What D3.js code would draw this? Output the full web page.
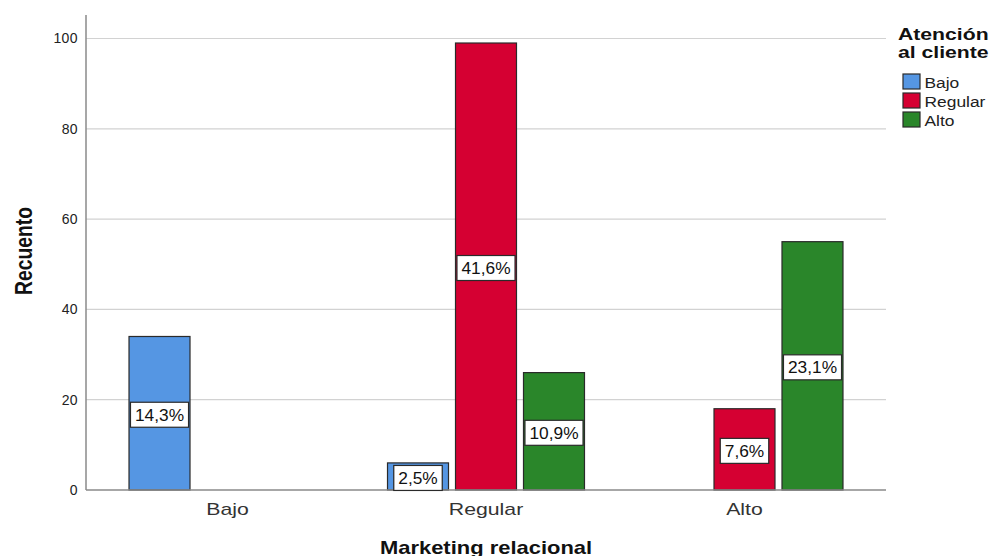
<!DOCTYPE html>
<html>
<head>
<meta charset="utf-8">
<script src="https://cdn.jsdelivr.net/npm/d3@7"></script>
<style>
  html, body { margin: 0; padding: 0; background: #fff; }
  svg { display: block; font-family: "Liberation Sans", Arial, sans-serif; }
</style>
</head>
<body>
<svg id="chart" width="994" height="556"></svg>
<script>
// Marketing relacional (x categories) by Atención al cliente (series)
const categories = ["Bajo", "Regular", "Alto"];
const seriesNames = ["Bajo", "Regular", "Alto"];
const seriesColors = ["#5596e3", "#d50032", "#2a862a"];
// counts per category, one array per series (null = no bar)
const bajoCounts = [34, 6, null];
const regularCounts = [null, 99, 18];
const altoCounts = [null, 26, 55];
// percentage labels (of total n = 238)
const bajoPct = ["14,3%", "2,5%", null];
const regularPct = [null, "41,6%", "7,6%"];
const altoPct = [null, "10,9%", "23,1%"];
const yTicks = [0, 20, 40, 60, 80, 100];

const seriesValues = [bajoCounts, regularCounts, altoCounts];
const seriesLabels = [bajoPct, regularPct, altoPct];

const svg = d3.select("#chart");
const plotLeft = 86, plotRight = 886, plotTop = 15, plotBottom = 490;

const x = d3.scaleBand().domain(categories).range([plotLeft, plotRight])
  .paddingInner(0.238).paddingOuter(0.1664);
const xs = d3.scaleBand().domain(seriesNames).range([0, x.bandwidth()])
  .paddingInner(0.103).paddingOuter(0);
const y = d3.scaleLinear().domain([0, 100]).range([plotBottom, 38.5]);

// text placed at (px, py), widened horizontally by sx
function wideText(parent, px, py, sx, str, opts) {
  const t = parent.append("text")
    .attr("transform", `translate(${px},${py}) scale(${sx},1)${opts.rotate ? " rotate(" + opts.rotate + ")" : ""}`)
    .attr("text-anchor", opts.anchor || "start")
    .attr("font-size", opts.size)
    .attr("font-weight", opts.weight || "normal")
    .attr("fill", opts.fill || "#111")
    .text(str);
  return t;
}

// gridlines
svg.append("g").selectAll("line").data(yTicks.filter(d => d > 0)).join("line")
  .attr("x1", plotLeft).attr("x2", plotRight)
  .attr("y1", d => y(d)).attr("y2", d => y(d))
  .attr("stroke", "#d2d2d2").attr("stroke-width", 1.2);

// y axis
const yAxis = svg.append("g").attr("transform", `translate(${plotLeft},0)`)
  .call(d3.axisLeft(y).tickValues(yTicks).tickSize(0).tickPadding(8));
yAxis.select(".domain").remove();
yAxis.selectAll("text").attr("font-size", 14).attr("fill", "#222")
  .attr("letter-spacing", 0.4)
  .attr("font-family", "Liberation Sans, Arial, sans-serif");
svg.append("line").attr("x1", plotLeft).attr("x2", plotLeft).attr("y1", plotTop).attr("y2", plotBottom)
  .attr("stroke", "#8a8a8a").attr("stroke-width", 1.5);

// bars
const flat = [];
seriesValues.forEach((vals, si) => {
  vals.forEach((v, ci) => {
    if (v != null) flat.push({ cat: categories[ci], s: seriesNames[si], si, v, label: seriesLabels[si][ci] });
  });
});

svg.append("g").selectAll("rect").data(flat).join("rect")
  .attr("x", d => x(d.cat) + xs(d.s))
  .attr("y", d => y(d.v))
  .attr("width", xs.bandwidth())
  .attr("height", d => y(0) - y(d.v))
  .attr("fill", d => seriesColors[d.si])
  .attr("stroke", "#2a2a2a").attr("stroke-width", 1.2);

// x axis baseline
svg.append("line").attr("x1", plotLeft).attr("x2", plotRight).attr("y1", plotBottom).attr("y2", plotBottom)
  .attr("stroke", "#8a8a8a").attr("stroke-width", 1.5);

// percentage labels in boxes, centred on each bar
const lab = svg.append("g").selectAll("g").data(flat).join("g")
  .attr("transform", d => `translate(${x(d.cat) + xs(d.s) + xs.bandwidth() / 2},${(y(d.v) + y(0)) / 2 + 1.5}) scale(1.05,1)`);
lab.append("text")
  .attr("text-anchor", "middle").attr("dy", "0.36em")
  .attr("font-size", 16.5).attr("fill", "#111")
  .text(d => d.label);
lab.each(function () {
  const g = d3.select(this);
  const bb = g.select("text").node().getBBox();
  g.insert("rect", "text")
    .attr("x", bb.x - 4.3).attr("y", -12.5)
    .attr("width", bb.width + 8.6).attr("height", 25)
    .attr("fill", "#fff").attr("stroke", "#2a2a2a").attr("stroke-width", 1.2);
});

// x category labels
const catG = svg.append("g");
categories.forEach(c => {
  wideText(catG, x(c) + x.bandwidth() / 2, 514.5, 1.25, c, { size: 17, anchor: "middle", fill: "#333" });
});

// axis titles
wideText(svg, 486, 553.5, 1.22, "Marketing relacional", { size: 18, weight: "bold", anchor: "middle" });
wideText(svg, 32, 251, 1.25, "Recuento", { size: 19.3, weight: "bold", anchor: "middle", rotate: -90 });

// legend
const leg = svg.append("g");
wideText(leg, 898, 39.5, 1.3, "Atención", { size: 16.3, weight: "bold" });
wideText(leg, 898, 58, 1.3, "al cliente", { size: 16.3, weight: "bold" });
seriesNames.forEach((s, i) => {
  const yy = 74 + i * 19;
  leg.append("rect").attr("x", 903).attr("y", yy).attr("width", 17).attr("height", 15)
    .attr("fill", seriesColors[i]).attr("stroke", "#2a2a2a").attr("stroke-width", 1.2);
  wideText(leg, 924.5, yy + 13.5, 1.2, s, { size: 14.5, fill: "#222" });
});
</script>
</body>
</html>
